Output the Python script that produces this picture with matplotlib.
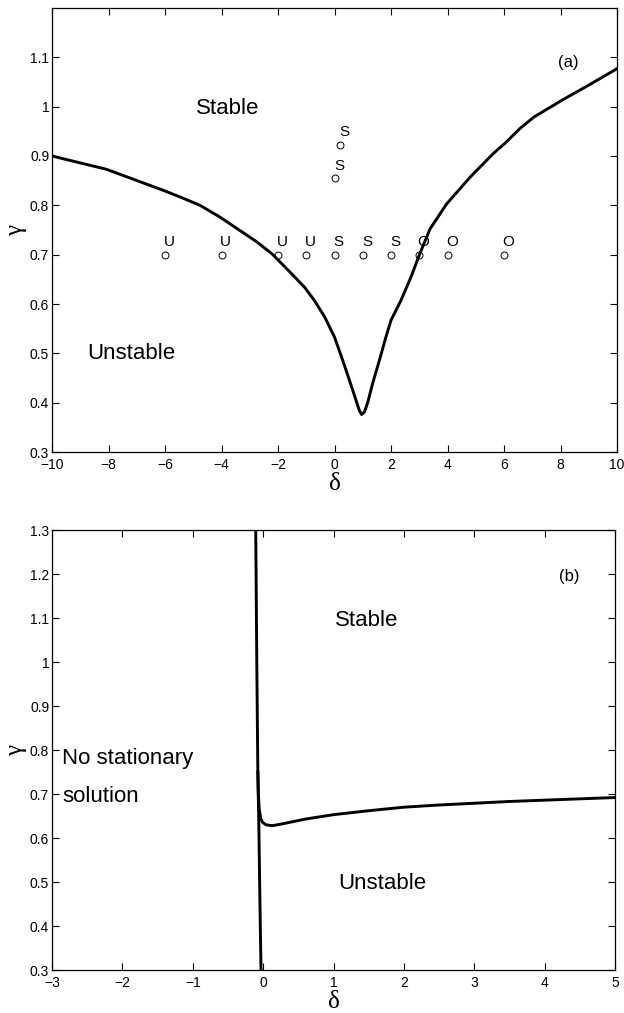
import matplotlib
matplotlib.use("Agg")
import matplotlib.pyplot as plt
import numpy as np

plt.rcParams['font.family'] = ['Liberation Sans', 'DejaVu Sans']

# ---- panel (a): stability boundary gamma(delta) ----
a_delta = [-10, -8.07, -6.04, -5.47, -4.76, -4.05, -3.35, -2.75, -2.2, -1.65,
           -1.06, -0.71, -0.35, 0.0, 0.29, 0.59, 0.76, 0.88, 0.96, 1.06, 1.18,
           1.35, 1.59, 1.82, 2.0, 2.35, 2.71, 3.0, 3.38, 3.97, 4.8, 5.62, 6.04,
           6.57, 7.06, 8.05, 9.1, 10.0]
a_gamma = [0.900, 0.873, 0.830, 0.817, 0.800, 0.776, 0.749, 0.726, 0.701, 0.669,
           0.634, 0.607, 0.574, 0.533, 0.486, 0.435, 0.405, 0.384, 0.376, 0.381, 0.401,
           0.439, 0.486, 0.533, 0.567, 0.607, 0.655, 0.699, 0.752, 0.803, 0.857, 0.905, 0.926,
           0.956, 0.979, 1.013, 1.047, 1.077]

# sampled parameter points and their classification
pt_delta = [-6, -4, -2, -1, 0, 1, 2, 3, 4, 6, 0.02, 0.19]
pt_gamma = [0.7, 0.7, 0.7, 0.7, 0.7, 0.7, 0.7, 0.7, 0.7, 0.7, 0.855, 0.923]
pt_label = ['U', 'U', 'U', 'U', 'S', 'S', 'S', 'O', 'O', 'O', 'S', 'S']

# ---- panel (b) ----
b_vert_delta = [-0.105, -0.09, -0.075, -0.06, -0.045, -0.03]
b_vert_gamma = [1.30, 1.00, 0.75, 0.62, 0.45, 0.30]
b_branch_delta = [-0.075, -0.068, -0.055, -0.035, -0.01, 0.04, 0.13, 0.3, 0.6,
                  1.0, 1.5, 2.0, 2.5, 3.0, 3.5, 4.0, 4.5, 5.0]
b_branch_gamma = [0.75, 0.70, 0.665, 0.645, 0.636, 0.630, 0.628, 0.633, 0.643,
                  0.653, 0.662, 0.670, 0.675, 0.679, 0.683, 0.686, 0.689, 0.692]

W, H = 624, 1013
fig = plt.figure(figsize=(W / 100, H / 100), dpi=100)
ax_a = fig.add_axes([52 / W, 1 - 452 / H, 565 / W, 444 / H])
ax_b = fig.add_axes([52 / W, 1 - 970 / H, 563 / W, 440 / H])

lw = 2.1
label_font = dict(family=['Liberation Serif', 'DejaVu Serif'], fontsize=18)


def style(ax):
    ax.tick_params(direction='in', top=True, right=True, length=5, width=0.8,
                   labelsize=10)
    ax.tick_params(axis='x', pad=4)
    ax.tick_params(axis='y', pad=2)
    for s in ax.spines.values():
        s.set_linewidth(0.9)
    ax.set_xlabel('δ', fontdict=label_font, labelpad=1)
    ax.set_ylabel('γ', fontdict=label_font, labelpad=0)
    ax.yaxis.set_label_coords(-0.044, 0.5)


# panel (a)
ax_a.plot(a_delta, a_gamma, color='black', lw=lw, solid_joinstyle='round')
ax_a.plot(pt_delta, pt_gamma, linestyle='none', marker='o', markersize=5,
          markerfacecolor='none', markeredgecolor='black', markeredgewidth=0.7)
for d, g, t in zip(pt_delta, pt_gamma, pt_label):
    ax_a.text(d + 0.15, g + 0.025, t, fontsize=11, ha='center', va='center')
ax_a.set_xlim(-10, 10)
ax_a.set_ylim(0.3, 1.2)
ax_a.set_xticks(np.arange(-10, 11, 2))
ax_a.set_yticks([0.3, 0.4, 0.5, 0.6, 0.7, 0.8, 0.9, 1.0, 1.1])
ax_a.set_yticklabels(['0.3', '0.4', '0.5', '0.6', '0.7', '0.8', '0.9', '1', '1.1'])
ax_a.set_xticklabels(['\u221210', '\u22128', '\u22126', '\u22124', '\u22122',
                      '0', '2', '4', '6', '8', '10'])
ax_a.text(-3.77, 0.996, 'Stable', fontsize=16, ha='center', va='center')
ax_a.text(-7.2, 0.50, 'Unstable', fontsize=16, ha='center', va='center')
ax_a.text(8.27, 1.09, '(a)', fontsize=12, ha='center', va='center')
style(ax_a)

# panel (b)
ax_b.plot(b_vert_delta, b_vert_gamma, color='black', lw=lw)
ax_b.plot(b_branch_delta, b_branch_gamma, color='black', lw=lw,
          solid_joinstyle='round')
ax_b.set_xlim(-3, 5)
ax_b.set_ylim(0.3, 1.3)
ax_b.set_xticks(np.arange(-3, 6, 1))
ax_b.set_xticklabels(['\u22123', '\u22122', '\u22121', '0', '1', '2', '3', '4', '5'])
ax_b.set_yticks([0.3, 0.4, 0.5, 0.6, 0.7, 0.8, 0.9, 1.0, 1.1, 1.2, 1.3])
ax_b.set_yticklabels(['0.3', '0.4', '0.5', '0.6', '0.7', '0.8', '0.9', '1',
                      '1.1', '1.2', '1.3'])
ax_b.text(1.47, 1.095, 'Stable', fontsize=16, ha='center', va='center')
ax_b.text(1.70, 0.497, 'Unstable', fontsize=16, ha='center', va='center')
ax_b.text(-2.86, 0.781, 'No stationary', fontsize=16, ha='left', va='center')
ax_b.text(-2.86, 0.695, 'solution', fontsize=16, ha='left', va='center')
ax_b.text(4.35, 1.194, '(b)', fontsize=12, ha='center', va='center')
style(ax_b)

fig.savefig('out.png', dpi=100, facecolor='white')
